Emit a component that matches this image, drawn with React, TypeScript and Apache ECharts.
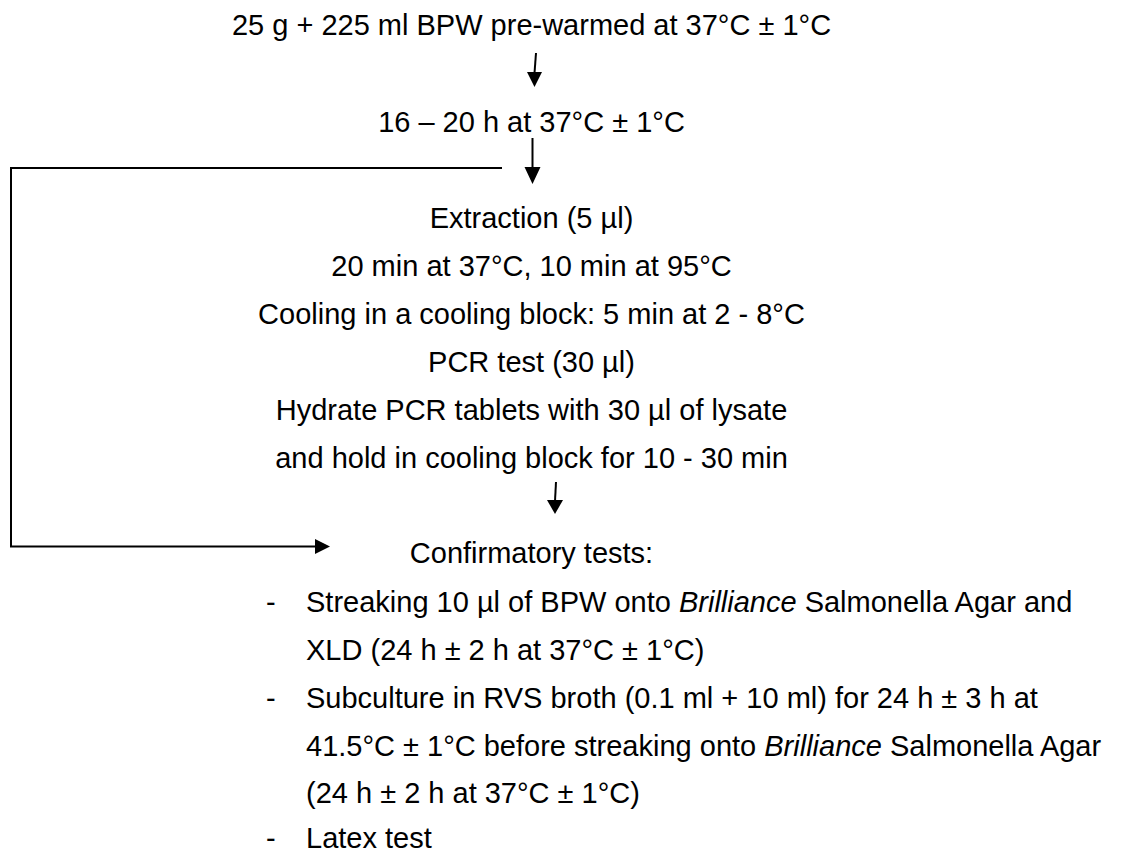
import React, { useEffect, useRef } from "react";
import * as echarts from "echarts";

const W = 1122;
const H = 854;
const FONT = "'Liberation Sans', Arial, Helvetica, sans-serif";
const FS = 29;
const INK = "#000000";

// Flow steps (text content)
const topSteps = [
  "25 g + 225 ml BPW pre-warmed at 37°C ± 1°C",
  "16 – 20 h at 37°C ± 1°C",
];
const topStepY = [25, 122];

const pcrLines = [
  "Extraction (5 µl)",
  "20 min at 37°C, 10 min at 95°C",
  "Cooling in a cooling block: 5 min at 2 - 8°C",
  "PCR test (30 µl)",
  "Hydrate PCR tablets with 30 µl of lysate",
  "and hold in cooling block for 10 - 30 min",
];
const pcrY0 = 218;
const lineGap = 48;

const confirmTitle = "Confirmatory tests:";
const confirmTitleY = 553;

// each entry: [hasDash, segments] ; segment italic flag
const confirmLines: [boolean, [string, boolean][]][] = [
  [true, [["Streaking 10 µl of BPW onto ", false], ["Brilliance", true], [" Salmonella Agar and", false]]],
  [false, [["XLD (24 h ± 2 h at 37°C ± 1°C)", false]]],
  [true, [["Subculture in RVS broth (0.1 ml + 10 ml) for 24 h ± 3 h at", false]]],
  [false, [["41.5°C ± 1°C before streaking onto ", false], ["Brilliance", true], [" Salmonella Agar", false]]],
  [false, [["(24 h ± 2 h at 37°C ± 1°C)", false]]],
  [true, [["Latex test", false]]],
];
const confirmY = [602, 650, 698, 746, 793, 838];

const CX = 531.5;
const listTextX = 306;
const dashX = 266;

function arrowDown(xTop: number, yTop: number, xBot: number, yShaftEnd: number, yTip: number, half: number) {
  return [
    { type: "line", shape: { x1: xTop, y1: yTop, x2: xBot, y2: yShaftEnd + 1 }, style: { stroke: INK, lineWidth: 2 }, silent: true },
    {
      type: "polygon",
      shape: { points: [[xBot - half, yShaftEnd], [xBot + half, yShaftEnd], [xBot, yTip]] },
      style: { fill: INK },
      silent: true,
    },
  ];
}

export default function App() {
  const ref = useRef<HTMLDivElement>(null);
  useEffect(() => {
    if (!ref.current) return;
    const chart = echarts.init(ref.current, undefined, { renderer: "svg" });
    const baseStyle = { fontSize: FS, fontFamily: FONT, fill: INK };
    const elements: any[] = [];

    topSteps.forEach((t, i) => {
      elements.push({
        type: "text", x: CX, y: topStepY[i], silent: true,
        style: { ...baseStyle, text: t, align: "center", verticalAlign: "middle" },
      });
    });

    pcrLines.forEach((t, i) => {
      elements.push({
        type: "text", x: CX, y: pcrY0 + i * lineGap, silent: true,
        style: { ...baseStyle, text: t, align: "center", verticalAlign: "middle" },
      });
    });

    elements.push({
      type: "text", x: CX, y: confirmTitleY, silent: true,
      style: { ...baseStyle, text: confirmTitle, align: "center", verticalAlign: "middle" },
    });

    confirmLines.forEach(([dash, segs], i) => {
      const y = confirmY[i];
      if (dash) {
        elements.push({
          type: "text", x: dashX, y, silent: true,
          style: { ...baseStyle, text: "-", align: "left", verticalAlign: "middle" },
        });
      }
      const text = segs.map(([s, it]) => `{${it ? "i" : "n"}|${s}}`).join("");
      elements.push({
        type: "text", x: listTextX, y, silent: true,
        style: {
          ...baseStyle,
          text,
          align: "left",
          verticalAlign: "middle",
          rich: {
            n: { fontSize: FS, fontFamily: FONT, fontStyle: "normal", fill: INK, color: INK },
            i: { fontSize: FS, fontFamily: FONT, fontStyle: "italic", fill: INK, color: INK },
          },
        },
      });
    });

    // arrows
    elements.push(...arrowDown(536, 53, 534.5, 72, 87, 7.5));
    elements.push(...arrowDown(532.5, 138, 532.5, 167, 184, 8));
    elements.push(...arrowDown(556, 482, 555, 500, 514, 8));

    // bypass loop
    elements.push({
      type: "polyline", silent: true,
      shape: { points: [[502, 168], [11, 168], [11, 546.5], [317, 546.5]] },
      style: { stroke: INK, lineWidth: 2, fill: null },
    });
    elements.push({
      type: "polygon", silent: true,
      shape: { points: [[315, 539], [315, 554], [330, 546.5]] },
      style: { fill: INK },
    });

    chart.setOption({
      animation: false,
      backgroundColor: "#ffffff",
      graphic: { elements },
    });
    return () => chart.dispose();
  }, []);
  return <div ref={ref} style={{ position: "fixed", left: 0, top: 0, width: W, height: H }} />;
}
